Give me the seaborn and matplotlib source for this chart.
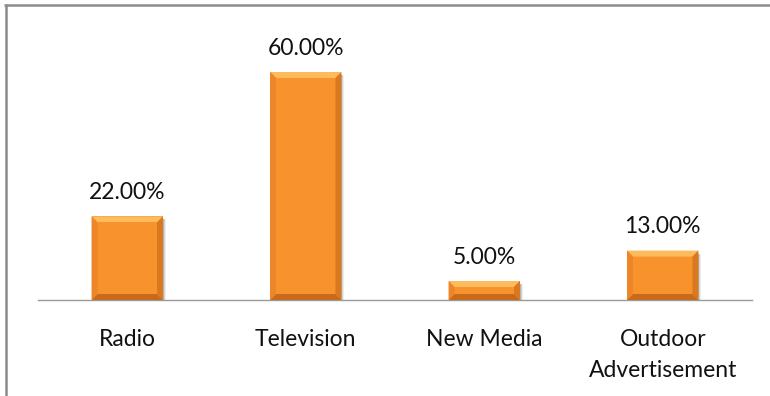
import matplotlib
matplotlib.use("Agg")
import matplotlib.pyplot as plt
from matplotlib.patches import Polygon
from matplotlib.lines import Line2D
import seaborn as sns
import pandas as pd

categories = ["Radio", "Television", "New Media", "Outdoor\nAdvertisement"]
shares = [22.00, 60.00, 5.00, 13.00]

df = pd.DataFrame({"channel": categories, "share": shares})

sns.set_theme(style="white")
plt.rcParams["font.family"] = ["Lato", "DejaVu Sans"]

W, H = 770, 396
fig = plt.figure(figsize=(W / 100, H / 100), dpi=100)
ax = fig.add_axes([38 / W, (H - 300) / H, (752 - 38) / W, (300 - 34) / H])

face = "#F7922C"
sns.barplot(data=df, x="channel", y="share", color=face, width=0.4,
            saturation=1, edgecolor="none", ax=ax, zorder=2)
ax.set_ylim(0, 70)
ax.set_xlim(-0.5, len(categories) - 0.5)

# pixel size in data units, for the bevel and drop shadow
px_x = (len(categories)) / (752 - 38)
px_y = 70 / (300 - 34)
bev_x, bev_y = 6 * px_x, 6 * px_y

for p in list(ax.patches):
    x0, y0 = p.get_x(), p.get_y()
    x1, y1 = x0 + p.get_width(), y0 + p.get_height()
    # soft shadow to the lower right
    for k, a in zip((3, 2, 1), (0.07, 0.10, 0.15)):
        ax.add_patch(Polygon([(x0 + 2 * px_x, y0 - k * px_y), (x1 + k * px_x, y0 - k * px_y),
                              (x1 + k * px_x, y1 - 3 * px_y), (x0 + 2 * px_x, y1 - 3 * px_y)],
                             closed=True, facecolor="#000000", alpha=a, edgecolor="none", zorder=1))
    bx = min(bev_x, (x1 - x0) / 4)
    by = min(bev_y, (y1 - y0) / 3)
    ix0, ix1, iy0, iy1 = x0 + bx, x1 - bx, y0 + by, y1 - by
    ax.add_patch(Polygon([(x0, y1), (x1, y1), (ix1, iy1), (ix0, iy1)], closed=True,
                         facecolor="#FDBB5E", edgecolor="none", zorder=3))
    ax.add_patch(Polygon([(x0, y0), (x1, y0), (ix1, iy0), (ix0, iy0)], closed=True,
                         facecolor="#C86A1C", edgecolor="none", zorder=3))
    ax.add_patch(Polygon([(x0, y0), (x0, y1), (ix0, iy1), (ix0, iy0)], closed=True,
                         facecolor="#EC8628", edgecolor="none", zorder=3))
    ax.add_patch(Polygon([(x1, y0), (x1, y1), (ix1, iy1), (ix1, iy0)], closed=True,
                         facecolor="#D9781F", edgecolor="none", zorder=3))
    ax.add_patch(Polygon([(ix0, iy0), (ix1, iy0), (ix1, iy1), (ix0, iy1)], closed=True,
                         facecolor=face, edgecolor="none", zorder=3))

for i, v in enumerate(shares):
    ax.annotate(f"{v:.2f}%", (i, v), xytext=(0, 12.5), textcoords="offset points",
                ha="center", va="baseline", fontsize=16.5, color="#111111")

ax.set_xlabel("")
ax.set_ylabel("")
ax.set_yticks([])
ax.tick_params(axis="x", length=0, pad=21, labelsize=16.5, labelcolor="#111111")
for lbl in ax.get_xticklabels():
    lbl.set_verticalalignment("top")
    lbl.set_linespacing(1.6)
for s in ("top", "right", "left"):
    ax.spines[s].set_visible(False)
ax.spines["bottom"].set_color("#9a9a9a")
ax.spines["bottom"].set_linewidth(1.0)

# frame lines along the top and left edges
fig.add_artist(Line2D([5 / W, 1], [1 - 5 / H, 1 - 5 / H], color="#8c8c8c", lw=1.8,
                      transform=fig.transFigure))
fig.add_artist(Line2D([6 / W, 6 / W], [0, 1 - 5 / H], color="#8c8c8c", lw=1.8,
                      transform=fig.transFigure))

fig.savefig("out.png", dpi=100, facecolor="white")
